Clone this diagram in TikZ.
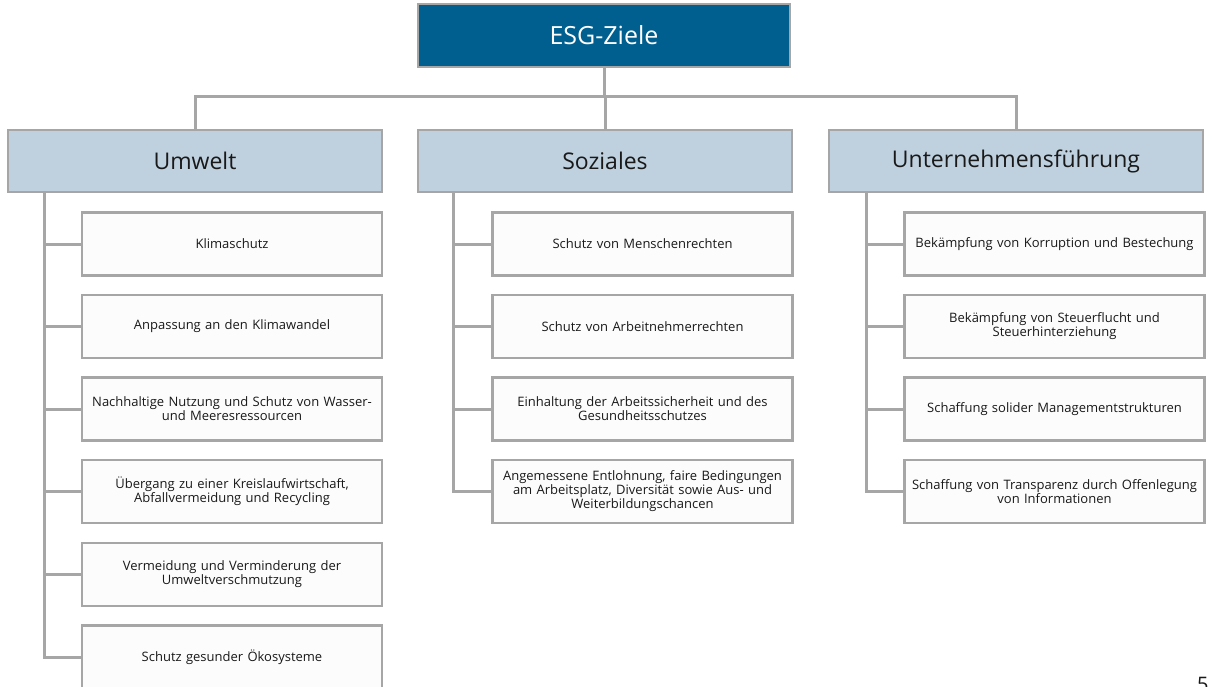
\documentclass[tikz,border=0pt]{standalone}
\usepackage{fontspec}
\setmainfont{Open Sans}
\definecolor{topblue}{RGB}{0,95,143}
\definecolor{catblue}{RGB}{191,208,222}
\definecolor{bordergray}{RGB}{166,166,166}
\definecolor{childfill}{RGB}{252,252,252}
\definecolor{txt}{RGB}{25,25,25}
\tikzset{
  topbox/.style={draw=bordergray, line width=2.8pt, fill=topblue, text=white,
    minimum width=372pt, minimum height=63pt, inner sep=0pt,
    font=\fontsize{25}{29}\selectfont},
  catbox/.style={draw=bordergray, line width=2.8pt, fill=catblue, text=txt,
    minimum width=374pt, minimum height=62pt, inner sep=0pt,
    font=\fontsize{23}{27}\selectfont},
  childbox/.style={draw=bordergray, line width=2.8pt, fill=childfill, text=txt,
    minimum width=300pt, minimum height=63pt, inner sep=0pt, text width=300pt,
    align=center, font=\fontsize{13}{14}\selectfont},
  conn/.style={draw=bordergray, line width=3pt}
}
\begin{document}
\begin{tikzpicture}[x=1pt,y=-1pt]
\useasboundingbox (0,0) rectangle (1212,686);
\node[topbox] (top) at (604,35.5) {ESG-Ziele};
\node[catbox] (umw) at (195,161) {Umwelt};
\node[catbox] (soz) at (605,161) {Soziales};
\node[catbox] (unt) at (1016,161) {Unternehmensführung};

\node[childbox] (u1) at (232,244) {Klimaschutz};
\node[childbox] (u2) at (232,326.5) {Anpassung an den Klimawandel};
\node[childbox] (u3) at (232,409) {Nachhaltige Nutzung und Schutz von Wasser-\\und Meeresressourcen};
\node[childbox] (u4) at (232,491.5) {Übergang zu einer Kreislaufwirtschaft,\\Abfallvermeidung und Recycling};
\node[childbox] (u5) at (232,574.5) {Vermeidung und Verminderung der\\Umweltverschmutzung};
\node[childbox] (u6) at (232,657) {Schutz gesunder Ökosysteme};

\node[childbox] (s1) at (642.5,244) {Schutz von Menschenrechten};
\node[childbox] (s2) at (642.5,326.5) {Schutz von Arbeitnehmerrechten};
\node[childbox] (s3) at (642.5,409) {Einhaltung der Arbeitssicherheit und des\\Gesundheitsschutzes};
\node[childbox] (s4) at (642.5,491.5) {Angemessene Entlohnung, faire Bedingungen\\am Arbeitsplatz, Diversität sowie Aus- und\\Weiterbildungschancen};

\node[childbox] (g1) at (1054.5,244) {Bekämpfung von Korruption und Bestechung};
\node[childbox] (g2) at (1054.5,326.5) {Bekämpfung von Steuerflucht und\\Steuerhinterziehung};
\node[childbox] (g3) at (1054.5,409) {Schaffung solider Managementstrukturen};
\node[childbox] (g4) at (1054.5,491.5) {Schaffung von Transparenz durch Offenlegung\\von Informationen};

\node[anchor=north west, inner sep=0pt, text=txt, font=\fontsize{20}{24}\selectfont] (pg) at (1197,677) {5};

% connectors
\coordinate (bar) at (0,96);
\draw[conn] (top.south) -- (top.south |- bar);
\draw[conn] (umw.north) -- (umw.north |- bar) -- (unt.north |- bar) -- (unt.north);
\draw[conn] (soz.north) -- (soz.north |- bar);

\coordinate (us) at ([xshift=38pt]umw.south west);
\coordinate (ss) at ([xshift=37pt]soz.south west);
\coordinate (gs) at ([xshift=39pt]unt.south west);
\draw[conn] (us) |- (u6.west);
\foreach \n in {u1,u2,u3,u4,u5} \draw[conn] (\n.west) -- (\n.west -| us);
\draw[conn] (ss) |- (s4.west);
\foreach \n in {s1,s2,s3} \draw[conn] (\n.west) -- (\n.west -| ss);
\draw[conn] (gs) |- (g4.west);
\foreach \n in {g1,g2,g3} \draw[conn] (\n.west) -- (\n.west -| gs);
\end{tikzpicture}
\end{document}
